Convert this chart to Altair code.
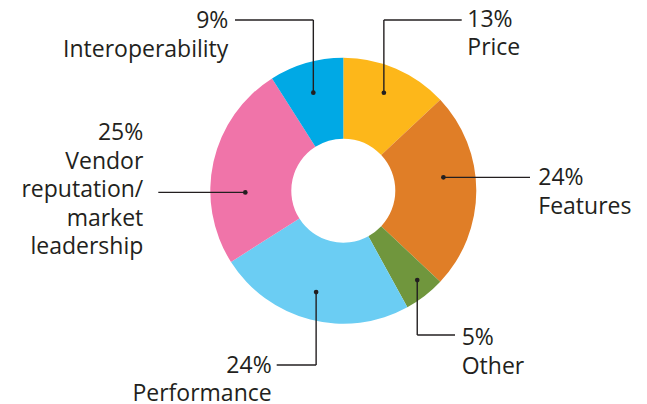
import math
import altair as alt
import pandas as pd

# ---------------- data ----------------
categories = ["Price", "Features", "Other", "Performance",
              "Vendor reputation/market leadership", "Interoperability"]
shares = [13, 24, 5, 24, 25, 9]
pct_labels = ["13%", "24%", "5%", "24%", "25%", "9%"]
name_lines = [["Price"], ["Features"], ["Other"], ["Performance"],
              ["Vendor", "reputation/", "market", "leadership"],
              ["Interoperability"]]
colors = ["#FDB71A", "#E07E27", "#70963D", "#6BCDF3", "#F074A9", "#00A9E5"]

# ---------------- layout (pixel space of the page) ----------------
W, H = 631, 396
CX, CY = 343.3, 190.7
R_IN, R_OUT = 52, 133
TEXT_COLOR = "#231F20"
FONT = "Open Sans"
FS = 23
LH = 28.5

dot_angle = [22.5, 82.4, 140.4, 195, 269, 343]
dot_radius = [106, 101, 116, 105, 98, 102.5]
leader_path = [
    [("v", 20), ("h", 461.7)],
    [("h", 530)],
    [("v", 335), ("h", 455)],
    [("v", 365), ("h", 276.7)],
    [("h", 158.3)],
    [("v", 20), ("h", 235)],
]
text_x = [467.3, 538.3, 461.7, 271.7, 143.3, 228.3]
text_align = ["left", "left", "left", "right", "right", "right"]
text_y0 = [26.7, 185, 345, 372.7, 140, 28]

# ---------------- tables ----------------
arc_df = pd.DataFrame({"category": categories, "share": shares,
                       "idx": list(range(len(categories)))})

dots, segs, texts = [], [], []
for i, cat in enumerate(categories):
    a = math.radians(dot_angle[i])
    dx = CX + dot_radius[i] * math.sin(a)
    dy = CY - dot_radius[i] * math.cos(a)
    dots.append({"x": dx, "y": dy})
    px, py = dx, dy
    for kind, v in leader_path[i]:
        nx, ny = (px, v) if kind == "v" else (v, py)
        segs.append({"x": px, "y": py, "x2": nx, "y2": ny})
        px, py = nx, ny
    lines = [pct_labels[i]] + name_lines[i]
    for j, t in enumerate(lines):
        texts.append({"x": text_x[i], "y": text_y0[i] + j * LH,
                      "t": t, "align": text_align[i]})

dot_df = pd.DataFrame(dots)
seg_df = pd.DataFrame(segs)
text_df = pd.DataFrame(texts)

xs = alt.Scale(domain=[8, 8 + W], range=[0, W])
ys = alt.Scale(domain=[8, 8 + H], range=[0, H])

arcs = alt.Chart(arc_df).mark_arc(innerRadius=R_IN, outerRadius=R_OUT).encode(
    theta=alt.Theta("share:Q", stack=True),
    color=alt.Color("category:N", scale=alt.Scale(domain=categories, range=colors), legend=None),
    order=alt.Order("idx:Q"),
    x=alt.value(CX - 8),
    y=alt.value(CY - 8),
)

rules = alt.Chart(seg_df).mark_rule(color=TEXT_COLOR, strokeWidth=1.4).encode(
    x=alt.X("x:Q", scale=xs, axis=None),
    y=alt.Y("y:Q", scale=ys, axis=None),
    x2="x2:Q",
    y2="y2:Q",
)

points = alt.Chart(dot_df).mark_circle(color=TEXT_COLOR, opacity=1, size=22).encode(
    x=alt.X("x:Q", scale=xs, axis=None),
    y=alt.Y("y:Q", scale=ys, axis=None),
)

def text_layer(al):
    return alt.Chart(text_df).transform_filter(
        alt.datum.align == al
    ).mark_text(align=al, baseline="alphabetic", font=FONT, fontSize=FS,
                color=TEXT_COLOR).encode(
        x=alt.X("x:Q", scale=xs, axis=None),
        y=alt.Y("y:Q", scale=ys, axis=None),
        text="t:N",
    )

chart = alt.layer(arcs, rules, points, text_layer("left"), text_layer("right")).properties(
    width=W, height=H, padding=0,
    autosize=alt.AutoSizeParams(type="none"),
    background="white",
).configure_view(stroke=None)

chart.save("out.html", embed_options={"renderer": "svg", "actions": False})
